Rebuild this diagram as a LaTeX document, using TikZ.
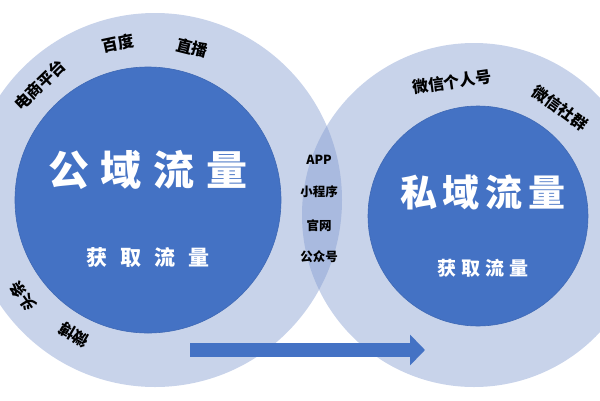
\documentclass[tikz,border=0pt]{standalone}
\usepackage{fontspec}
\newfontfamily\cjk{Noto Sans CJK SC}
\usetikzlibrary{arrows.meta, positioning}

\definecolor{ringblue}{HTML}{C8D3EA}
\definecolor{lensblue}{HTML}{A9BADF}
\definecolor{coreblue}{HTML}{4472C4}
\definecolor{coreedge}{HTML}{3F69B5}

\begin{document}
\begin{tikzpicture}[
    x=1pt, y=-1pt,
    core/.style={fill=coreblue, draw=coreedge, line width=0.6pt},
    bigtitle/.style={text=white, font=\cjk\bfseries\fontsize{41}{41}\selectfont},
    subtitle/.style={text=white, font=\cjk\bfseries\fontsize{21}{21}\selectfont},
    chan/.style={text=black, font=\cjk\bfseries\fontsize{16}{16}\selectfont, inner sep=1pt},
    lens/.style={text=black, font=\cjk\bfseries\fontsize{12.5}{12.5}\selectfont, inner sep=1pt},
    flow/.style={draw=coreblue, line width=14pt, -{Triangle[length=15pt, width=30pt]}}
]
\useasboundingbox (0,0) rectangle (600,400);

% Outer rings
\fill[ringblue] (155,200) circle (187);
\fill[ringblue] (474,215) circle (172);
\begin{scope}
    \clip (155,200) circle (187);
    \fill[lensblue] (474,215) circle (172);
\end{scope}

% Inner circles
\draw[core] (148,200) circle (133);
\draw[core] (478,216) circle (110);

% Public domain
\node[bigtitle] (pubtitle) at (148,170) {公\hspace{12pt}域\hspace{12pt}流\hspace{12pt}量};
\node[subtitle, below=88pt of pubtitle.center, anchor=center] (pubget) {获\hspace{13pt}取\hspace{13pt}流\hspace{13pt}量};

% Private domain
\node[bigtitle, font=\cjk\bfseries\fontsize{37}{37}\selectfont] (pritle) at (483,192) {私\hspace{6pt}域\hspace{6pt}流\hspace{6pt}量};
\node[subtitle, font=\cjk\bfseries\fontsize{19}{19}\selectfont, below=76pt of pritle.center, anchor=center] (priget) {获\hspace{5pt}取\hspace{5pt}流\hspace{5pt}量};

% Public channels
\node[chan, rotate=44] (ecom) at (40,85) {电商平台};
\node[chan, rotate=12] (baidu) at (118,43) {百度};
\node[chan, rotate=-14] (live) at (192,48) {直播};
\node[chan, rotate=126] (toutiao) at (23,296) {头条};
\node[chan, rotate=150] (weibo) at (74,335) {微博};

% Private channels
\node[chan, rotate=8] (wxperson) at (452,82) {微信个人号};
\node[chan, rotate=-36] (wxgroup) at (560,108) {微信社群};

% Shared channels
\node[lens] (app) at (319,160) {APP};
\node[lens] (mini) at (319,192) {小程序};
\node[lens] (site) at (319,226) {官网};
\node[lens] (gzh) at (319,257) {公众号};

% Flow arrow
\coordinate (flowstart) at (190,350);
\coordinate (flowend) at (425,350);
\draw[flow] (flowstart) -- (flowend);

\end{tikzpicture}
\end{document}
